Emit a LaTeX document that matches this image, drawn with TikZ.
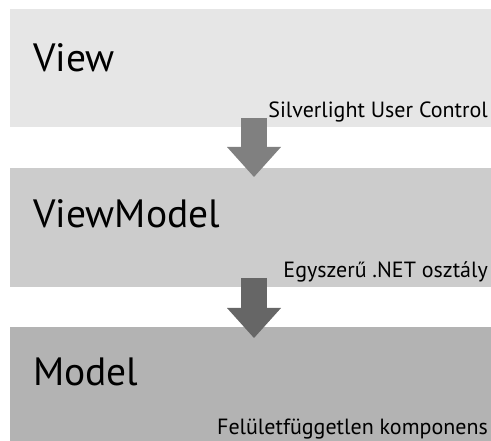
\documentclass[tikz,border=0pt]{standalone}
\usepackage{fontspec}
\setmainfont{PT Sans}
\usetikzlibrary{arrows.meta}
\definecolor{viewgray}{HTML}{E6E6E6}
\definecolor{vmgray}{HTML}{CCCCCC}
\definecolor{modelgray}{HTML}{B3B3B3}
\definecolor{arrowgray}{HTML}{808080}
\definecolor{arrowdark}{HTML}{666666}
\begin{document}
\begin{tikzpicture}[x=1pt, y=-1pt,
  layer/.style={shape=rectangle, draw=none, inner sep=0pt, outer sep=0pt, minimum width=481pt, anchor=north west},
  title/.style={anchor=base west, inner sep=0pt, font=\fontsize{39.5}{40}\selectfont},
  tech/.style={anchor=base east, inner sep=0pt, font=\fontsize{22}{22}\selectfont},
  flow/.style={-{Triangle[width=54pt, length=30pt, line width=0pt]}, line width=26pt}]
\useasboundingbox (0,0) rectangle (491,441);
\node[layer, fill=viewgray, minimum height=118pt] (view) at (10,9) {};
\node[layer, fill=vmgray, minimum height=119pt] (viewmodel) at (10,168) {};
\node[layer, fill=modelgray, minimum height=114pt] (model) at (10,327) {};
\node[title] (viewT) at (33,72) {View};
\node[title] (viewmodelT) at (33,228) {ViewModel};
\node[title] (modelT) at (33,386) {Model};
\node[tech] (viewL) at (488,118) {Silverlight User Control};
\node[tech] (viewmodelL) at (488,278) {Egyszerű .NET osztály};
\node[tech] (modelL) at (488,435) {Felületfüggetlen komponens};
\coordinate (a1) at (254,118);
\coordinate (b1) at (254,177);
\coordinate (a2) at (254,278);
\coordinate (b2) at (254,338);
\path [flow, color=arrowgray] (a1) edge (b1);
\path [flow, color=arrowdark] (a2) edge (b2);
\end{tikzpicture}
\end{document}
